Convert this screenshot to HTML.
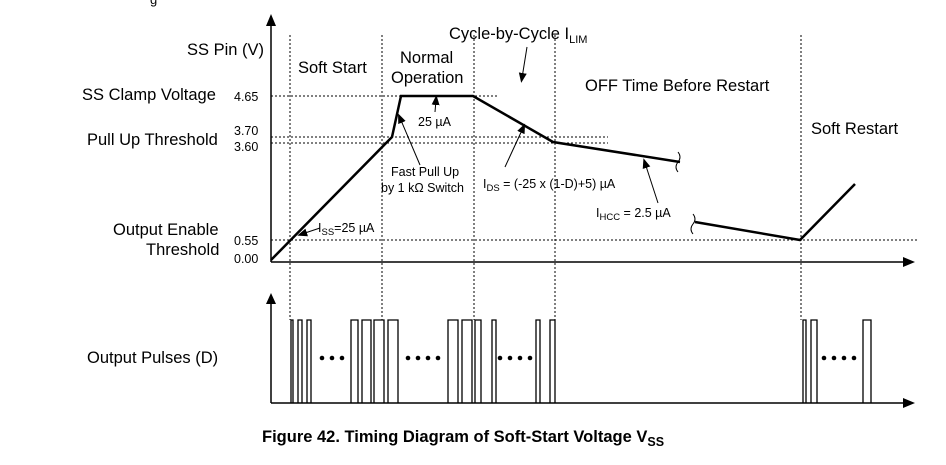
<!DOCTYPE html>
<html><head><style>body{margin:0;background:#fff}svg{display:block}text{font-family:"Liberation Sans",sans-serif;fill:#000}</style></head><body>
<svg width="946" height="465" viewBox="0 0 946 465">
<defs><marker id="a" markerWidth="10" markerHeight="10" refX="5" refY="5" orient="auto"><path d="M0,1 L10,5 L0,9z"/></marker></defs>
<text x="150" y="4" font-size="13" fill="#2a6ebb">g</text>
<g stroke="#000" stroke-width="1" stroke-dasharray="2,2" fill="none">
<line x1="290" y1="35" x2="290" y2="320"/><line x1="382" y1="35" x2="382" y2="320"/><line x1="474" y1="35" x2="474" y2="320"/><line x1="555" y1="35" x2="555" y2="320"/><line x1="801" y1="35" x2="801" y2="320"/>
<line x1="271" y1="96" x2="497" y2="96"/><line x1="271" y1="137" x2="608" y2="137"/><line x1="271" y1="143" x2="608" y2="143"/><line x1="271" y1="240" x2="918" y2="240"/>
</g>
<g stroke="#000" stroke-width="1.5" fill="none">
<line x1="271" y1="262" x2="271" y2="24"/><path d="M271,262 L905,262"/>
<line x1="271" y1="403" x2="271" y2="302"/><path d="M271,403 L905,403"/>
</g>
<path d="M266,26 L271,14 L276,26z M266,304 L271,293 L276,304z M903,257 L915,262 L903,267z M903,398 L915,403 L903,408z"/>
<path d="M271,260 L392,137 L401,96 L473,96 L553,142 L680,162 M695,222 L800,240 L855,184" stroke="#000" stroke-width="2.5" fill="none"/>
<path d="M678,152 q4,5 0,10 q-4,5 0,10 M693,214 q4,5 0,10 q-4,5 0,10" stroke="#000" fill="none"/>
<g stroke="#000" stroke-width="1" marker-end="url(#a)">
<line x1="320" y1="228" x2="302" y2="234"/><line x1="435" y1="112" x2="436" y2="100"/><line x1="420" y1="165" x2="400" y2="118"/><line x1="505" y1="167" x2="523" y2="128"/><line x1="658" y1="203" x2="645" y2="163"/><line x1="527" y1="47" x2="522" y2="78"/>
</g>
<g font-size="16.5">
<text x="187" y="55">SS Pin (V)</text><text x="82" y="100">SS Clamp Voltage</text><text x="87" y="145">Pull Up Threshold</text>
<text x="113" y="235">Output Enable</text><text x="146" y="255">Threshold</text>
<text x="298" y="73">Soft Start</text><text x="400" y="63">Normal</text><text x="391" y="83">Operation</text>
<text x="449" y="39">Cycle-by-Cycle I<tspan font-size="11" dy="4">LIM</tspan></text>
<text x="585" y="91">OFF Time Before Restart</text><text x="811" y="134">Soft Restart</text>
<text x="87" y="363">Output Pulses (D)</text>
</g>
<g font-size="12.5">
<text x="234" y="101">4.65</text><text x="234" y="135">3.70</text><text x="234" y="151">3.60</text><text x="234" y="245">0.55</text><text x="234" y="263">0.00</text>
<text x="418" y="126">25 µA</text><text x="391" y="176">Fast Pull Up</text><text x="381" y="192">by 1 kΩ Switch</text>
<text x="483" y="188">I<tspan font-size="9.5" dy="3">DS</tspan><tspan dy="-3"> = (-25 x (1-D)+5) µA</tspan></text>
<text x="596" y="217">I<tspan font-size="9.5" dy="3">HCC</tspan><tspan dy="-3"> = 2.5 µA</tspan></text>
<text x="318" y="232">I<tspan font-size="9.5" dy="3">SS</tspan><tspan dy="-3">=25 µA</tspan></text>
</g>
<g stroke="#000" stroke-width="1.3" fill="none">
<path d="M291,403V320h2V403 M298,403V320h4V403 M307,403V320h4V403 M351,403V320h7V403 M362,403V320h9V403 M374,403V320h10V403 M388,403V320h10V403 M448,403V320h10V403 M462,403V320h10V403 M475,403V320h6V403 M492,403V320h4V403 M536,403V320h4V403 M550,403V320h5V403 M803,403V320h3V403 M811,403V320h6V403 M863,403V320h8V403"/>
</g>
<g>
<circle cx="322" cy="358" r="2.3"/><circle cx="332" cy="358" r="2.3"/><circle cx="342" cy="358" r="2.3"/>
<circle cx="408" cy="358" r="2.3"/><circle cx="418" cy="358" r="2.3"/><circle cx="428" cy="358" r="2.3"/><circle cx="438" cy="358" r="2.3"/>
<circle cx="500" cy="358" r="2.3"/><circle cx="510" cy="358" r="2.3"/><circle cx="520" cy="358" r="2.3"/><circle cx="530" cy="358" r="2.3"/>
<circle cx="824" cy="358" r="2.3"/><circle cx="834" cy="358" r="2.3"/><circle cx="844" cy="358" r="2.3"/><circle cx="854" cy="358" r="2.3"/>
</g>
<text x="262" y="442" font-size="16.5" font-weight="bold">Figure 42.  Timing Diagram of Soft-Start Voltage V<tspan font-size="12.5" dy="4">SS</tspan></text>
</svg>
</body></html>
